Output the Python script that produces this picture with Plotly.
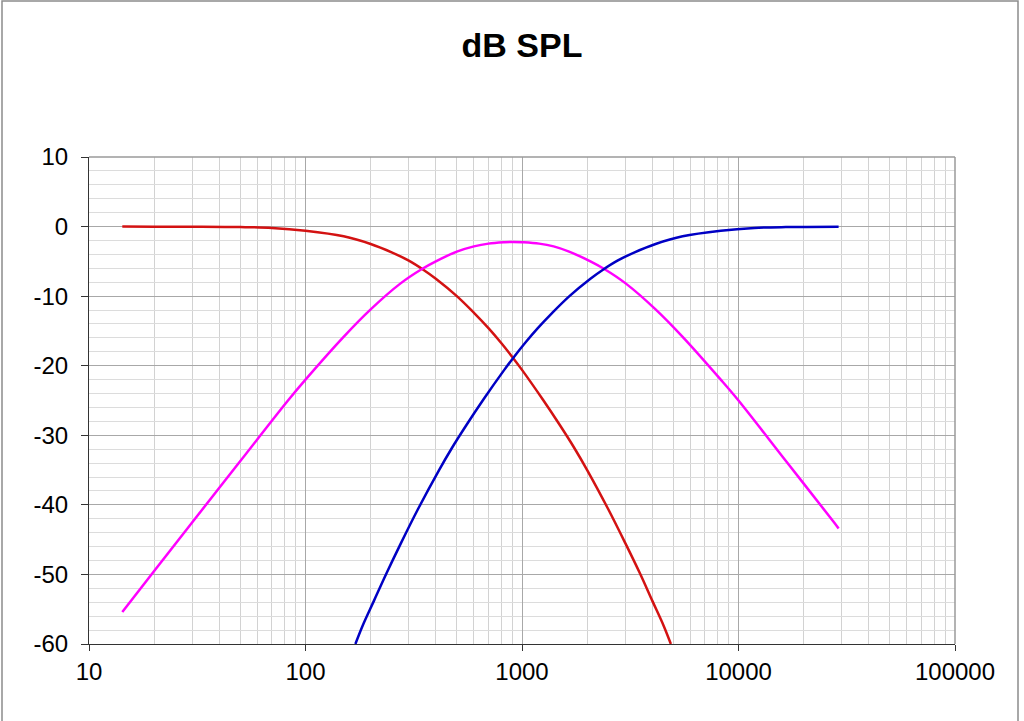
import plotly.graph_objects as go

# frequencies (Hz) and levels (dB)
low_freq = [14.25, 20, 30, 50, 70, 100, 150, 200, 250, 300, 350, 400, 500, 600,
            700, 800, 900, 1000, 1250, 1500, 1750, 2000, 2500, 3000, 3500,
            4000, 4500, 4870]
low_db = [0.0, -0.01, -0.02, -0.07, -0.2, -0.6, -1.4, -2.5, -3.7, -4.9, -6.2,
          -7.5, -10.0, -12.4, -14.6, -16.7, -18.7, -20.6, -24.9, -28.6, -31.9,
          -35.0, -40.6, -45.5, -49.8, -53.8, -57.3, -60.0]

mid_freq = [14.25, 20, 30, 50, 83, 100, 150, 200, 274, 345, 400, 500, 600, 700,
            830, 910, 1000, 1200, 1400, 1650, 2070, 2400, 3020, 4140, 5520,
            8280, 10000, 16560, 27600, 29000]
mid_db = [-55.4, -49.5, -42.5, -33.7, -25.0, -22.0, -15.85, -11.9, -8.2, -6.1,
          -5.0, -3.6, -2.85, -2.45, -2.25, -2.2, -2.25, -2.45, -2.85, -3.6,
          -5.0, -6.1, -8.2, -11.9, -15.85, -22.0, -25.0, -33.7, -42.5, -43.4]

high_freq = [170, 184, 207, 237, 276, 331, 414, 473, 552, 662, 828, 920, 1035,
             1183, 1380, 1656, 2070, 2366, 2760, 3312, 4140, 5521, 8281, 11830,
             16560, 29000]
high_db = [-60.0, -57.3, -53.8, -49.8, -45.5, -40.6, -35.0, -31.9, -28.6, -24.9,
           -20.6, -18.7, -16.7, -14.6, -12.4, -10.0, -7.5, -6.2, -4.9, -3.7,
           -2.5, -1.4, -0.6, -0.2, -0.07, -0.02]

x_ticks = [10, 100, 1000, 10000, 100000]
x_labels = ["10", "100", "1000", "10000", "100000"]
x_minor = [m * d for d in [10, 100, 1000, 10000] for m in range(2, 10)]
y_ticks = [10, 0, -10, -20, -30, -40, -50, -60]
y_labels = ["10", "0", "-10", "-20", "-30", "-40", "-50", "-60"]

font = "Liberation Sans, Arial, sans-serif"

fig = go.Figure()
for freq, db, colour in [(low_freq, low_db, "#d31212"),
                         (mid_freq, mid_db, "#ff00ff"),
                         (high_freq, high_db, "#0000c4")]:
    fig.add_trace(go.Scatter(x=freq, y=db, mode="lines",
                             line=dict(color=colour, width=2.5, shape="spline"),
                             showlegend=False))

fig.update_layout(
    width=1024, height=721,
    margin=dict(l=89, r=69, t=157, b=77),
    paper_bgcolor="white", plot_bgcolor="white",
    font=dict(family=font, size=24, color="black"),
    title=dict(text="<b>dB SPL</b>", x=0.5, xref="paper", xanchor="center",
               y=1 - 45 / 721, yanchor="middle",
               font=dict(family=font, size=34, color="black")),
)
fig.update_xaxes(type="log", range=[1, 5],
                 tickmode="array", tickvals=x_ticks, ticktext=x_labels,
                 showline=True, linecolor="#333333", linewidth=1.2,
                 ticks="outside", ticklen=6, tickcolor="#333333",
                 showgrid=True, gridcolor="#a8a8a8", gridwidth=1,
                 zeroline=False,
                 minor=dict(tickmode="array", tickvals=x_minor, showgrid=True,
                            gridcolor="#d2d2d2", ticklen=0))
fig.update_yaxes(range=[-60, 10],
                 tickmode="array", tickvals=y_ticks, ticktext=y_labels,
                 showline=True, linecolor="#333333", linewidth=1.2,
                 ticks="outside", ticklen=7, tickcolor="#333333",
                 ticklabelstandoff=8,
                 showgrid=True, gridcolor="#a8a8a8", gridwidth=1,
                 zeroline=False,
                 minor=dict(dtick=2, showgrid=True, gridcolor="#dcdcdc",
                            ticklen=0))

# grey frame on the top and right of the plot area
fig.add_shape(type="line", xref="paper", yref="paper", x0=0, x1=1, y0=1, y1=1,
              line=dict(color="#9a9a9a", width=1.5))
fig.add_shape(type="line", xref="paper", yref="paper", x0=1, x1=1, y0=0, y1=1,
              line=dict(color="#9a9a9a", width=1.5))
# outer chart border
fig.add_shape(type="rect", xref="paper", yref="paper",
              x0=(2 - 89) / 866, x1=(1018 - 89) / 866,
              y0=(644 - 730) / 487, y1=(644 - 1) / 487,
              line=dict(color="#8c8c8c", width=1.5))

fig.write_html("out.html", config={"displayModeBar": False},
               post_script="document.body.style.margin = '0';")
